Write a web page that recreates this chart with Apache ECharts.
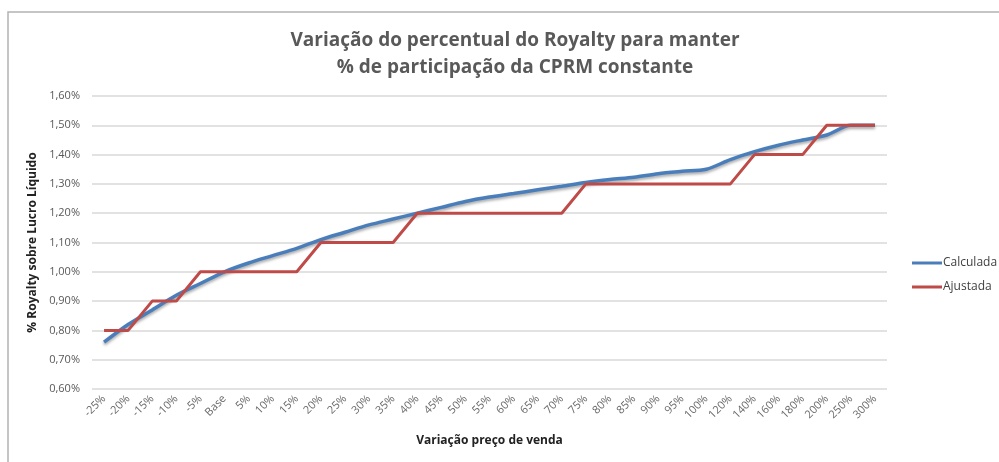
<!DOCTYPE html>
<html>
<head>
    <meta charset="utf-8">
    <title>Variação do percentual do Royalty</title>
    <style>
        html, body { margin: 0; padding: 0; background: #fff; }
        #container { width: 999px; height: 462px; }
    </style>
</head>
<body>
<div id="container"></div>
<script src="https://cdn.jsdelivr.net/npm/echarts@6/dist/echarts.min.js" charset="utf-8"></script>
<script>
    var categories = ['-25%', '-20%', '-15%', '-10%', '-5%', 'Base', '5%', '10%', '15%', '20%',
        '25%', '30%', '35%', '40%', '45%', '50%', '55%', '60%', '65%', '70%',
        '75%', '80%', '85%', '90%', '95%', '100%', '120%', '140%', '160%', '180%',
        '200%', '250%', '300%'];

    // valores em % (ex: 0.76 = 0,76%)
    var calculada = [0.76, 0.82, 0.87, 0.92, 0.96, 1.00, 1.03, 1.055, 1.08, 1.11,
        1.135, 1.16, 1.18, 1.20, 1.22, 1.24, 1.255, 1.267, 1.28, 1.292,
        1.305, 1.315, 1.323, 1.335, 1.343, 1.35, 1.383, 1.41, 1.432, 1.45,
        1.467, 1.50, 1.50];

    var ajustada = [0.80, 0.80, 0.90, 0.90, 1.00, 1.00, 1.00, 1.00, 1.00, 1.10,
        1.10, 1.10, 1.10, 1.20, 1.20, 1.20, 1.20, 1.20, 1.20, 1.20,
        1.30, 1.30, 1.30, 1.30, 1.30, 1.30, 1.30, 1.40, 1.40, 1.40,
        1.50, 1.50, 1.50];

    var font = '"Open Sans", "Liberation Sans", sans-serif';
    var myChart = echarts.init(document.getElementById('container'));

    var option = {
        backgroundColor: '#fff',
        animation: false,
        title: {
            text: 'Variação do percentual do Royalty para manter\n% de participação da CPRM constante',
            left: 510,
            textAlign: 'center',
            top: 22,
            textStyle: {
                fontFamily: font,
                fontSize: 19,
                fontWeight: 'bold',
                color: '#595959',
                lineHeight: 27
            }
        },
        legend: {
            orient: 'vertical',
            left: 907,
            top: 252,
            itemWidth: 30,
            itemHeight: 3,
            itemGap: 12,
            icon: 'rect',
            textStyle: {
                fontFamily: font,
                fontSize: 12,
                color: '#404040',
                padding: [0, 0, 0, -4]
            },
            data: ['Calculada', 'Ajustada']
        },
        grid: {
            left: 92,
            right: 112,
            top: 96,
            bottom: 73
        },
        xAxis: {
            type: 'category',
            data: categories,
            boundaryGap: true,
            name: 'Variação preço de venda',
            nameLocation: 'middle',
            nameGap: 46,
            nameTextStyle: {
                fontFamily: font,
                fontSize: 12,
                fontWeight: 'bold',
                color: '#222'
            },
            axisLine: { show: false },
            axisTick: { show: false },
            axisLabel: {
                interval: 0,
                rotate: 45,
                margin: 8,
                fontFamily: font,
                fontSize: 11,
                color: '#6a6a6a'
            }
        },
        yAxis: {
            type: 'value',
            min: 0.6,
            max: 1.6,
            interval: 0.1,
            name: '% Royalty sobre Lucro Líquido',
            nameLocation: 'middle',
            nameGap: 51,
            nameTextStyle: {
                fontFamily: font,
                fontSize: 12,
                fontWeight: 'bold',
                color: '#222'
            },
            axisLine: { show: false },
            axisTick: { show: false },
            axisLabel: {
                margin: 12,
                fontFamily: font,
                fontSize: 11,
                color: '#595959',
                formatter: function (v) {
                    return v.toFixed(2).replace('.', ',') + '%';
                }
            },
            splitLine: {
                lineStyle: { color: '#d9d9d9', width: 1.5 }
            }
        },
        series: [{
            name: 'Calculada',
            type: 'line',
            data: calculada,
            smooth: 0.3,
            symbol: 'none',
            color: '#4a7ebb',
            lineStyle: {
                width: 3.5,
                color: '#4a7ebb',
                shadowColor: 'rgba(0,0,0,0.35)',
                shadowBlur: 3,
                shadowOffsetY: 2
            },
            z: 2
        }, {
            name: 'Ajustada',
            type: 'line',
            data: ajustada,
            symbol: 'none',
            color: '#be4b48',
            lineStyle: {
                width: 3,
                color: '#be4b48'
            },
            z: 3
        }],
        graphic: [{
            type: 'polyline',
            shape: { points: [[8, 462], [8, 12], [999, 12]] },
            style: { stroke: '#b3b3b3', lineWidth: 1.5, fill: null },
            silent: true
        }]
    };

    myChart.setOption(option);
</script>
</body>
</html>
